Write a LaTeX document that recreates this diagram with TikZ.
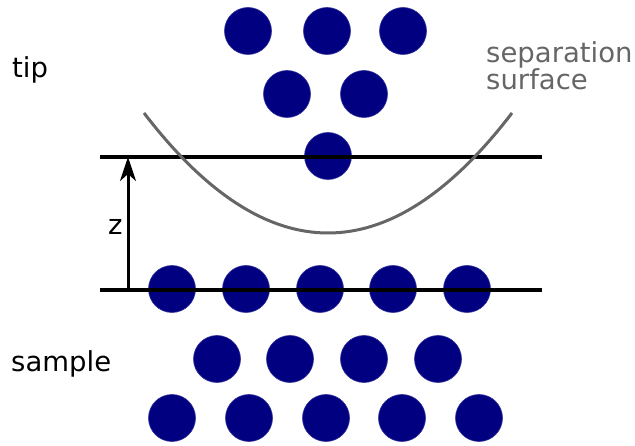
\documentclass[tikz,border=0pt]{standalone}
\usepackage{fontspec}
\setmainfont{DejaVu Sans}
\usetikzlibrary{arrows.meta}
\definecolor{atomblue}{HTML}{000080}
\definecolor{surfgray}{HTML}{666666}
\tikzset{
  atom/.style={circle, fill=atomblue, draw=atomblue!80!white, line width=0.6pt, minimum size=47pt, inner sep=0pt},
  plane/.style={line width=3.2pt, black},
  lbl/.style={font=\fontsize{27.5}{25}\selectfont, inner sep=0pt, anchor=base west},
  zarrow/.style={line width=3pt, -{Stealth[length=24pt, width=16pt, inset=7pt]}},
  surf/.style={line width=3pt, surfgray}
}
\begin{document}
\begin{tikzpicture}[x=1pt, y=-1pt]
\useasboundingbox (0,0) rectangle (635,446);
% tip atoms
\node[atom] (t1) at (248,31) {};
\node[atom] (t2) at (327,31) {};
\node[atom] (t3) at (403,31) {};
\node[atom] (t4) at (287,94) {};
\node[atom] (t5) at (364,94) {};
\node[atom] (t6) at (328,156) {};
% sample atoms
\node[atom] (s1) at (172,289) {};
\node[atom] (s2) at (246,289) {};
\node[atom] (s3) at (320,289) {};
\node[atom] (s4) at (393,289) {};
\node[atom] (s5) at (467,289) {};
\node[atom] (s6) at (217,359) {};
\node[atom] (s7) at (290,359) {};
\node[atom] (s8) at (364,359) {};
\node[atom] (s9) at (438,359) {};
\node[atom] (s10) at (172,418) {};
\node[atom] (s11) at (249,418) {};
\node[atom] (s12) at (326,418) {};
\node[atom] (s13) at (402,418) {};
\node[atom] (s14) at (479,418) {};
% planes
\coordinate (ta) at (100,157);
\coordinate (tb) at (542,157);
\coordinate (ba) at (100,290);
\coordinate (bb) at (542,290);
\coordinate (zb) at (128,290);
\coordinate (zt) at (128,157);
\draw[plane] (ta) -- (tb);
\draw[plane] (ba) -- (bb);
\draw[zarrow] (zb) -- (zt);
% separation surface
\coordinate (c0) at (144,113);
\coordinate (c3) at (512,113);
\draw[surf] (c0) .. controls (266.67,273) and (389.33,273) .. (c3);
% labels
\node[lbl] (tip) at (12,78) {tip};
\node[lbl] (sample) at (11,372) {sample};
\node[lbl] (z) at (108,235) {z};
\node[lbl, text=surfgray, align=left] (sep) at (486,90) {separation\\surface};
\end{tikzpicture}
\end{document}
